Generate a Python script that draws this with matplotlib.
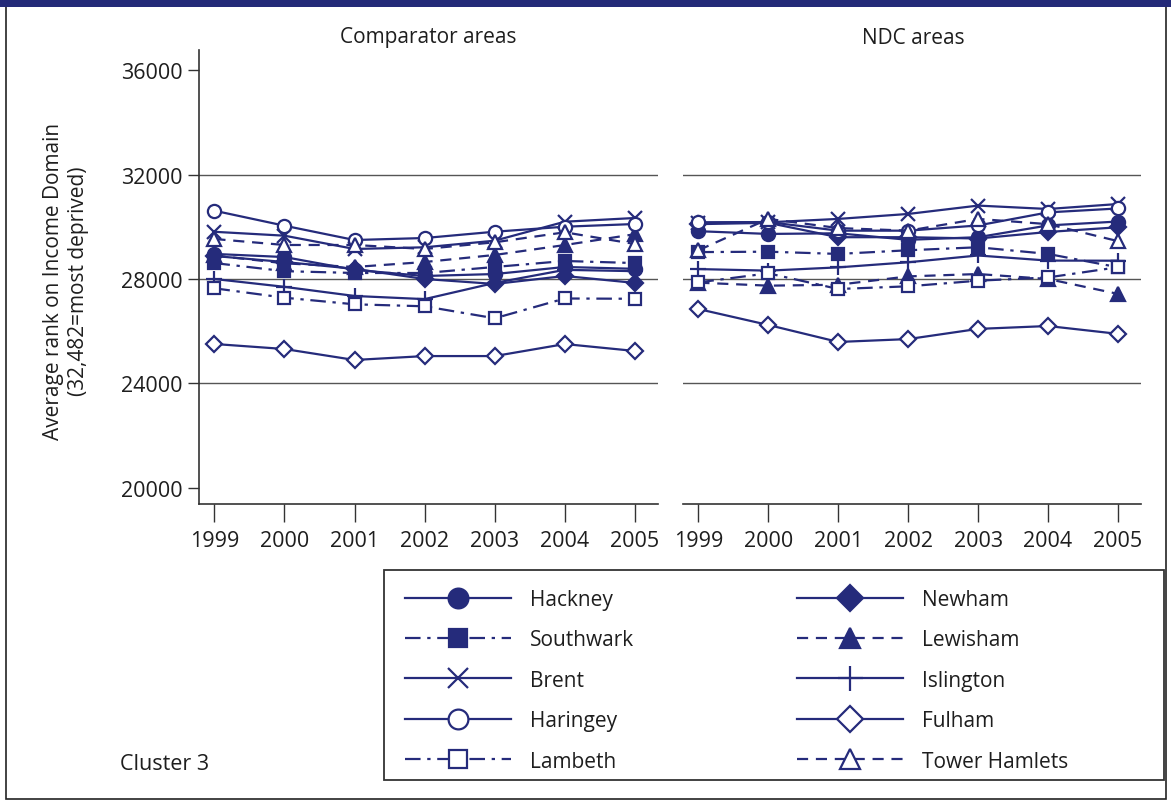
import matplotlib
matplotlib.use("Agg")
import matplotlib.pyplot as plt
from matplotlib.patches import Rectangle

plt.rcParams['font.family'] = ['Open Sans', 'DejaVu Sans']

years = [1999, 2000, 2001, 2002, 2003, 2004, 2005]
panel_titles = ["Comparator areas", "NDC areas"]
ytick_values = [20000, 24000, 28000, 32000, 36000]
grid_values = [24000, 28000, 32000]

# Comparator areas
comp_hackney = [28960, 28840, 28350, 28115, 28190, 28460, 28390]
comp_newham = [28880, 28650, 28390, 28000, 27810, 28115, 27850]
comp_southwark = [28610, 28300, 28230, 28230, 28460, 28690, 28610]
comp_lewisham = [28900, 28600, 28460, 28650, 28920, 29300, 29715]
comp_brent = [29807, 29658, 29149, 29214, 29466, 30193, 30335]
comp_islington = [28000, 27700, 27350, 27230, 27850, 28350, 28300]
comp_haringey = [30614, 30040, 29492, 29569, 29810, 30002, 30105]
comp_fulham = [25512, 25320, 24900, 25050, 25050, 25510, 25245]
comp_lambeth = [27644, 27284, 27031, 26955, 26496, 27254, 27243]
comp_tower = [29531, 29302, 29302, 29149, 29405, 29788, 29340]

# NDC areas
ndc_hackney = [29830, 29725, 29750, 29500, 29600, 30050, 30200]
ndc_newham = [30100, 30150, 29600, 29600, 29550, 29800, 29980]
ndc_southwark = [29030, 29045, 28960, 29100, 29215, 28960, 28450]
ndc_lewisham = [27860, 27745, 27780, 28100, 28190, 28000, 27430]
ndc_brent = [30150, 30170, 30300, 30490, 30810, 30680, 30870]
ndc_islington = [28380, 28320, 28445, 28640, 28900, 28705, 28700]
ndc_haringey = [30170, 30180, 29850, 29850, 30050, 30550, 30700]
ndc_fulham = [26850, 26240, 25590, 25700, 26090, 26200, 25900]
ndc_lambeth = [27870, 28218, 27617, 27720, 27935, 28060, 28450]
ndc_tower = [29100, 30300, 29950, 29850, 30300, 30100, 29450]

names = ["Hackney", "Newham", "Southwark", "Lewisham", "Brent",
         "Islington", "Haringey", "Fulham", "Lambeth", "Tower Hamlets"]
comp_data = [comp_hackney, comp_newham, comp_southwark, comp_lewisham, comp_brent,
             comp_islington, comp_haringey, comp_fulham, comp_lambeth, comp_tower]
ndc_data = [ndc_hackney, ndc_newham, ndc_southwark, ndc_lewisham, ndc_brent,
            ndc_islington, ndc_haringey, ndc_fulham, ndc_lambeth, ndc_tower]

NAVY = '#252B7B'
TXT = '#1e1e1e'
dashdot = (0, (7, 3, 1.5, 3))
dashed = (0, (5, 3.5))
styles = {
    "Hackney": dict(ls='-', marker='o', mfc=NAVY),
    "Newham": dict(ls='-', marker='D', mfc=NAVY),
    "Southwark": dict(ls=dashdot, marker='s', mfc=NAVY),
    "Lewisham": dict(ls=dashed, marker='^', mfc=NAVY),
    "Brent": dict(ls='-', marker='x', mfc=NAVY),
    "Islington": dict(ls='-', marker='+', mfc=NAVY),
    "Haringey": dict(ls='-', marker='o', mfc='white'),
    "Fulham": dict(ls='-', marker='D', mfc='white'),
    "Lambeth": dict(ls=dashdot, marker='s', mfc='white'),
    "Tower Hamlets": dict(ls=dashed, marker='^', mfc='white'),
}
msize = {"o": 9.5, "D": 8.5, "s": 8.5, "^": 10, "x": 10, "+": 12}

fig = plt.figure(figsize=(11.71, 8.03), dpi=100)
W, H = 1171, 803
def fx(px): return px / W
def fy(py): return 1 - py / H

TOP, BOT = 51, 505
ax_l = fig.add_axes([fx(199), fy(BOT), fx(658) - fx(199), fy(TOP) - fy(BOT)])
ax_r = fig.add_axes([fx(683), fy(BOT), fx(1141) - fx(683), fy(TOP) - fy(BOT)])

handles = {}
for ax, data in [(ax_l, comp_data), (ax_r, ndc_data)]:
    for g in grid_values:
        ax.axhline(g, color='#555555', lw=1.0, zorder=1)
    for name, vals in zip(names, data):
        st = styles[name]
        ln, = ax.plot(years, vals, color=NAVY, lw=1.6, linestyle=st['ls'],
                      marker=st['marker'], markersize=msize[st['marker']],
                      markerfacecolor=st['mfc'], markeredgecolor=NAVY,
                      markeredgewidth=1.6, zorder=3, label=name)
        handles[name] = ln
    ax.set_xlim(1998.78, 2005.33)
    ax.set_ylim(19387, 36766)
    ax.set_xticks(years)
    ax.set_xticklabels([str(y) for y in years], fontsize=15.5, color=TXT)
    ax.tick_params(axis='x', length=13, width=1.0, color='#333333', pad=6)
    for s in ['top', 'right']:
        ax.spines[s].set_visible(False)
    ax.spines['bottom'].set_color('#333333')
    ax.spines['bottom'].set_linewidth(1.2)

ax_l.set_yticks(ytick_values)
ax_l.set_yticklabels([str(v) for v in ytick_values], fontsize=15.5, color=TXT)
ax_l.tick_params(axis='y', length=8, width=1.0, color='#333333', pad=4)
ax_l.spines['left'].set_color('#333333')
ax_l.spines['left'].set_linewidth(1.2)
ax_r.spines['left'].set_visible(False)
ax_r.set_yticks([])

fig.text(fx(428), fy(38), panel_titles[0], fontsize=15, ha='center', va='center', color=TXT)
fig.text(fx(913), fy(38), panel_titles[1], fontsize=15, ha='center', va='center', color=TXT)

fig.text(fx(66), fy(281), "Average rank on Income Domain\n(32,482=most deprived)",
         rotation=90, fontsize=15, ha='center', va='center', color=TXT,
         multialignment='center', linespacing=1.3)

fig.text(fx(120), fy(765), "Cluster 3", fontsize=15.5, ha='left', va='center', color=TXT)

order = ["Hackney", "Southwark", "Brent", "Haringey", "Lambeth",
         "Newham", "Lewisham", "Islington", "Fulham", "Tower Hamlets"]
leg = fig.legend([handles[n] for n in order], order, ncol=2,
                 loc='upper left', bbox_to_anchor=(fx(405), fy(590)),
                 borderaxespad=0, fontsize=15, frameon=False,
                 handlelength=5.1, handletextpad=0.9, columnspacing=7.8,
                 labelspacing=0.93, borderpad=0.0, markerscale=1.5)
for t in leg.get_texts():
    t.set_color(TXT)

# legend box
fig.patches.append(Rectangle((fx(384), fy(781)), fx(1164) - fx(384), fy(571) - fy(781),
                             transform=fig.transFigure, fill=False,
                             edgecolor='#333333', lw=1.3, zorder=0))
# figure border and top band
fig.patches.append(Rectangle((fx(6), fy(800)), fx(1166) - fx(6), fy(6) - fy(800),
                             transform=fig.transFigure, fill=False,
                             edgecolor='#222222', lw=1.2, zorder=0))
fig.patches.append(Rectangle((0, fy(8)), 1, 1 - fy(8), transform=fig.transFigure,
                             facecolor='#242A78', edgecolor='none', zorder=1))

fig.savefig("out.png", dpi=100)
